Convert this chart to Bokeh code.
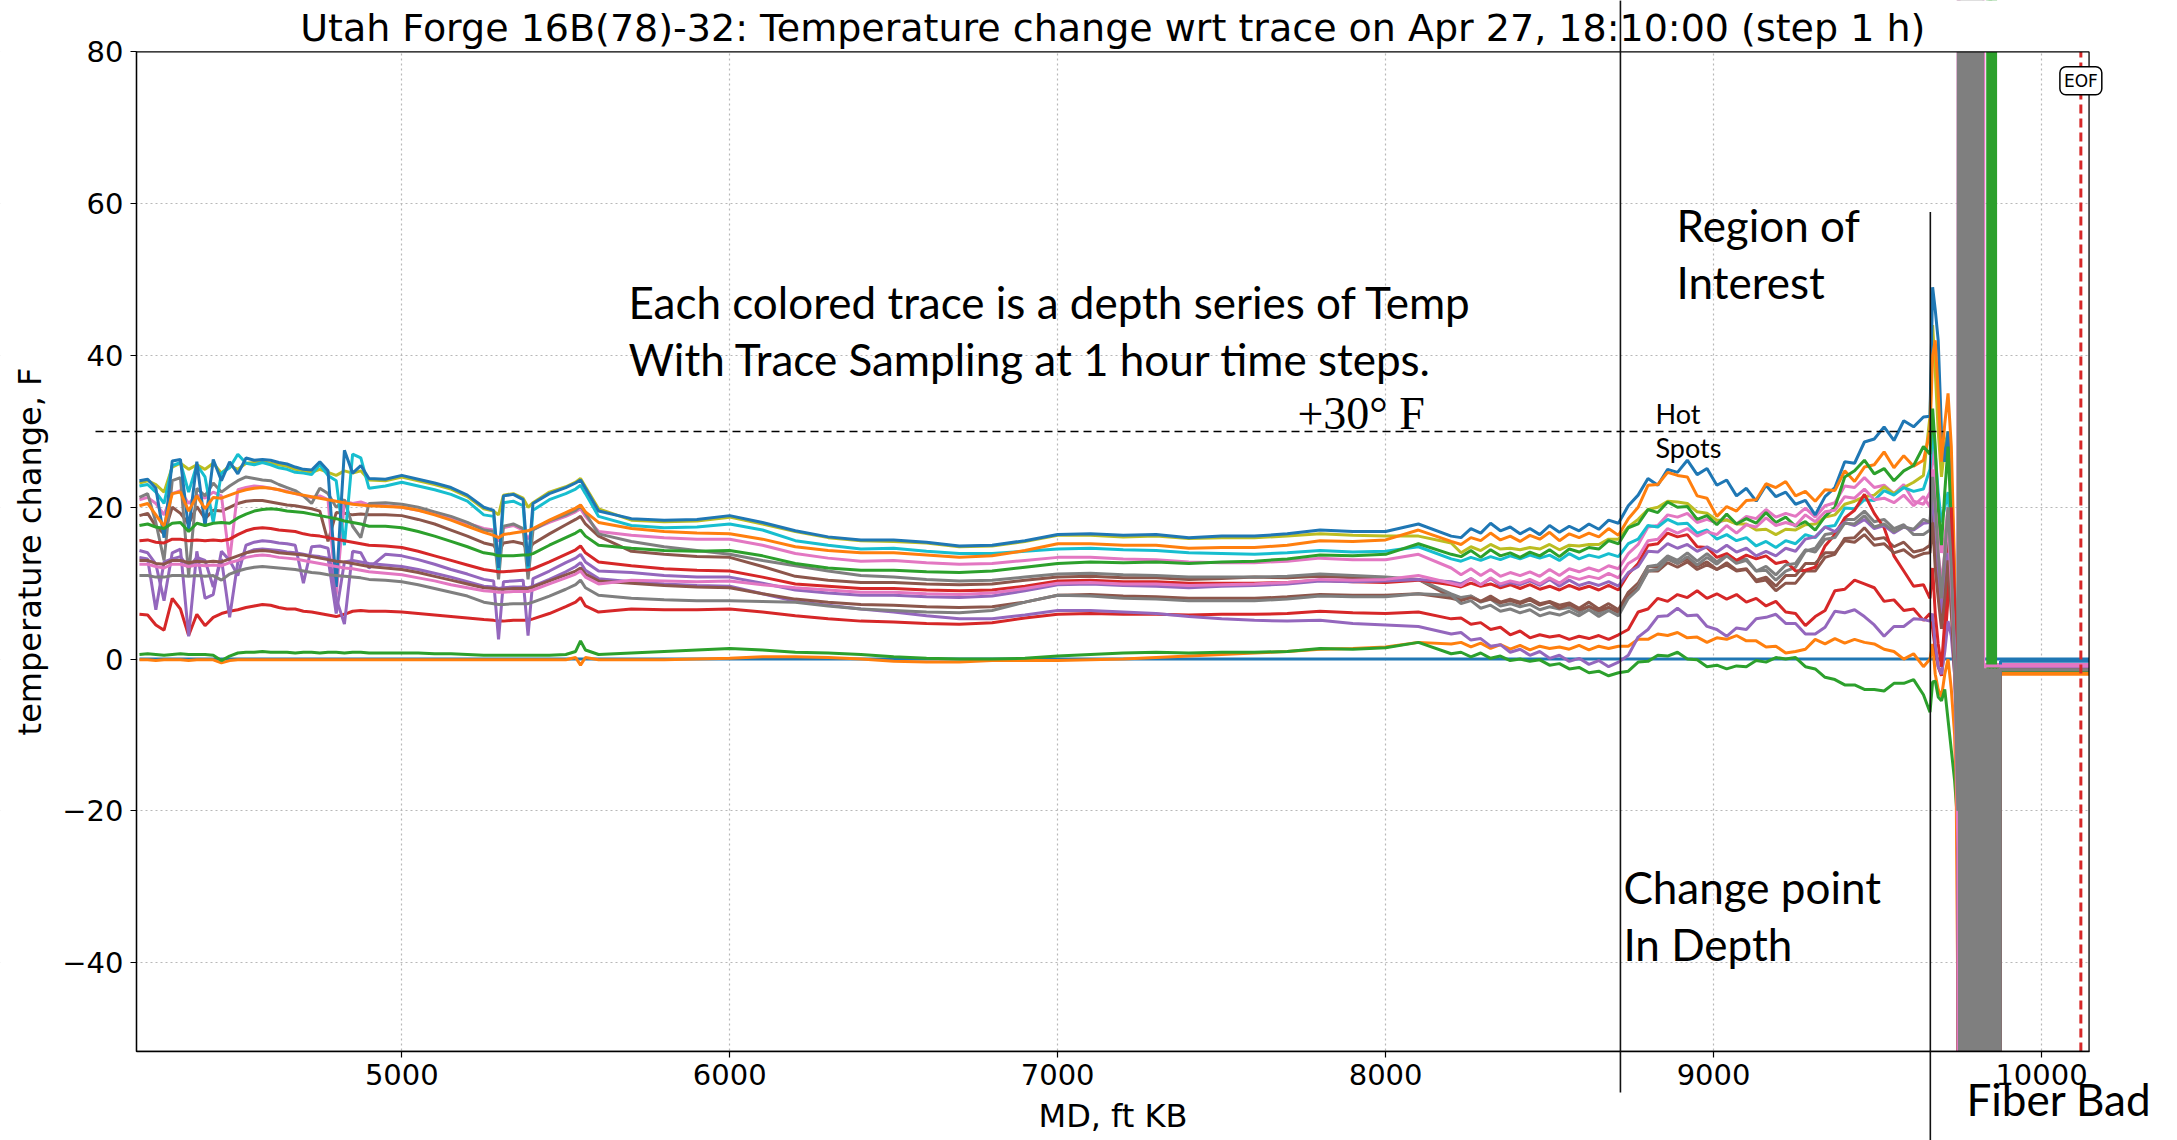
from bokeh.plotting import figure
from bokeh.models import (Range1d, FixedTicker, CustomJSTickFormatter, Label, Arrow, LinearAxis, Grid)
from bokeh.embed import file_html
from bokeh.resources import INLINE

# ---------------- depth grid (MD, ft KB) ----------------
md_a = [4200, 4225, 4250, 4275, 4300, 4325, 4350, 4375, 4400, 4425, 4450, 4475, 4500, 4525, 4550,
        4575, 4600, 4625, 4650, 4675, 4700, 4725, 4750, 4775, 4800, 4825, 4850, 4875, 4900]
md_b = [4950, 5000, 5050, 5100, 5150, 5200, 5250, 5280, 5295, 5310, 5340, 5370, 5385, 5400, 5450,
        5500, 5530, 5545, 5560, 5600]
md_c = [5700, 5800, 5900, 6000, 6100, 6200, 6300, 6400, 6500, 6600, 6700, 6800, 6900, 7000, 7100,
        7200, 7300, 7400, 7500, 7600, 7700, 7800, 7900, 8000, 8100, 8200]
md_d = [8230, 8260, 8290, 8320, 8350, 8380, 8410, 8440, 8470, 8500, 8530, 8560, 8590, 8620, 8650,
        8680, 8710, 8740, 8770, 8800, 8830, 8860, 8890, 8920, 8950, 8980, 9010, 9040, 9070, 9100,
        9130, 9160, 9190, 9220, 9250, 9280, 9310, 9340, 9370, 9400, 9430, 9460, 9490, 9520, 9550,
        9580, 9610, 9640]
md_e = [9660, 9668, 9676, 9685, 9695, 9705, 9715, 9725, 9735, 9745]
depth_ft = md_a + md_b + md_c + md_d + md_e

# ---------------- temperature change traces (F), one per hour ----------------
t00_blue = ([0, 0, 0, 0, 0, 0, 0, 0, 0, 0, 0, 0, 0, 0, 0, 0, 0, 0, 0, 0, 0, 0, 0, 0, 0, 0, 0, 0, 0]
            + [0, 0, 0, 0, 0, 0, 0, 0, 0, 0, 0, 0, 0, 0, 0, 0, 0, 0, 0, 0]
            + [0, 0, 0, 0, 0, 0, 0, 0, 0, 0, 0, 0, 0, 0, 0, 0, 0, 0, 0, 0, 0, 0, 0, 0, 0, 0]
            + [0, 0, 0, 0, 0, 0, 0, 0, 0, 0, 0, 0, 0, 0, 0, 0, 0, 0, 0, 0, 0, 0, 0, 0, 0, 0, 0, 0,
               0, 0, 0, 0, 0, 0, 0, 0, 0, 0, 0, 0, 0, 0, 0, 0, 0, 0, 0, 0]
            + [0, 0, 0, 0, 0, 0, 0, 0, 0, 0])
t01_orange = ([-0.1, -0.1, -0.2, -0.1, -0.1, -0.1, -0.2, -0.1, -0.1, -0.1, -0.5, -0.2, -0.1, -0.1, -0.1,
               -0.1, -0.1, -0.1, -0.1, -0.1, -0.1, -0.1, -0.1, -0.1, -0.1, -0.1, -0.1, -0.1, -0.1]
              + [-0.1, -0.1, -0.1, -0.1, -0.1, -0.1, -0.1, -0.1, -0.1, -0.1, -0.1, -0.1, -0.1, -0.1, -0.1,
                 -0.1, 0.2, -0.8, 0.2, -0.1]
              + [-0.1, -0.1, 0.0, 0.1, 0.3, 0.3, 0.2, 0.0, -0.3, -0.4, -0.4, -0.2, -0.2, -0.2, -0.1,
                 0.0, 0.2, 0.4, 0.6, 0.8, 1.0, 1.3, 1.4, 1.6, 2.2, 2.0]
              + [2.2, 1.6, 2.1, 1.4, 1.9, 1.3, 1.8, 1.2, 1.7, 1.4, 1.6, 1.3, 1.8, 1.2, 1.7, 1.4, 1.7,
                 1.7, 2.6, 2.6, 3.3, 3.1, 3.5, 2.8, 2.9, 2.2, 2.8, 2.6, 3.1, 2.4, 2.4, 1.6, 1.7, 0.8,
                 1.0, 1.3, 2.6, 2.0, 2.7, 2.1, 2.6, 2.2, 2.0, 1.3, 1.0, 0.0, 0.7, -1.0]
              + [0, 2, -2, -4, -5, -2, 0, -4, -10, -25])
t02_green = ([0.6, 0.7, 0.6, 0.5, 0.6, 0.7, 0.6, 0.6, 0.6, 0.5, -0.2, 0.4, 0.8, 0.9, 0.9, 1.0, 0.9,
              0.9, 0.9, 0.8, 0.9, 0.9, 0.8, 0.9, 0.9, 0.8, 0.9, 0.9, 0.8]
             + [0.8, 0.8, 0.8, 0.7, 0.7, 0.6, 0.5, 0.5, 0.5, 0.5, 0.5, 0.5, 0.5, 0.5, 0.5, 0.6, 1.0,
                2.4, 1.2, 0.6]
             + [0.8, 1.0, 1.2, 1.4, 1.2, 0.9, 0.8, 0.6, 0.3, 0.1, 0.0, 0.0, 0.1, 0.4, 0.6, 0.8, 0.9,
                0.8, 0.9, 0.9, 1.0, 1.4, 1.3, 1.5, 2.2, 0.7]
             + [0.9, 0.3, 0.8, 0.1, 0.4, -0.2, 0.0, -0.3, -0.1, -0.8, -0.6, -1.3, -1.1, -1.8, -1.6,
                -2.2, -1.8, -1.6, -0.4, -0.3, 0.5, 0.4, 0.9, 0.0, -0.1, -1.0, -0.8, -1.3, -0.9, -1.0,
                -0.2, -0.4, 0.2, 0.0, 0.2, -1.0, -1.3, -2.4, -2.7, -3.4, -3.4, -4.0, -4.0, -4.2,
                -3.2, -3.2, -2.7, -4.7]
             + [-7, -3, -2.9, -5, -5.5, -4, -8, -12, -16, -22])
t03_red = ([5.9, 5.8, 4.5, 3.8, 8.0, 6.6, 3.1, 5.9, 4.4, 5.5, 6.0, 6.3, 6.5, 6.8, 7.0, 7.2, 7.1,
            6.8, 6.6, 6.6, 6.3, 6.2, 6.0, 5.8, 5.6, 5.9, 6.3, 6.4, 6.3]
           + [6.3, 6.2, 6.0, 5.8, 5.6, 5.4, 5.2, 5.1, 5.0, 5.0, 5.1, 5.1, 5.1, 5.3, 6.0, 6.9, 7.5,
              8.1, 7.0, 6.2]
           + [6.6, 6.5, 6.5, 6.6, 6.2, 5.7, 5.3, 5.0, 4.9, 4.7, 4.6, 4.8, 5.4, 5.9, 6.0, 5.9, 5.9,
              5.8, 5.9, 5.9, 6.0, 6.3, 6.1, 6.0, 6.2, 5.3]
           + [5.4, 4.6, 4.8, 3.9, 4.2, 3.2, 3.7, 2.8, 3.2, 2.9, 3.1, 2.6, 3.0, 2.7, 3.1, 2.6, 3.2,
              3.9, 6.2, 6.6, 8.0, 7.6, 8.5, 8.1, 9.0, 8.0, 8.6, 7.9, 8.5, 7.5, 8.0, 7.0, 7.6, 6.2,
              6.0, 4.4, 5.6, 6.4, 9.0, 9.2, 10.4, 9.9, 9.4, 7.6, 7.8, 6.4, 6.6, 5.1]
           + [6, 4, 1.4, -1, -2.2, 2, 8, 14, 5, -8])
t04_purple = ([13.4, 13.2, 6.5, 12.8, 13.2, 13.5, 12.0, 13.4, 13.0, 9.5, 13.2, 5.5, 12.8, 14.0, 14.4,
               14.5, 14.4, 14.3, 14.1, 14.0, 13.8, 13.6, 13.5, 13.3, 6.0, 12.8, 13.0, 12.8, 12.6]
              + [12.4, 12.2, 11.8, 11.3, 10.8, 10.2, 9.6, 9.5, 9.3, 9.4, 9.5, 9.5, 9.4, 9.6, 10.5,
                 11.5, 12.2, 12.7, 11.7, 10.6]
              + [10.2, 9.9, 9.7, 9.6, 8.6, 7.6, 7.1, 6.6, 6.2, 5.7, 5.3, 5.3, 5.8, 6.4, 6.4, 6.2, 6.0,
                 5.6, 5.3, 5.1, 5.0, 5.1, 4.7, 4.5, 4.3, 3.3]
              + [3.5, 2.5, 2.7, 1.7, 1.9, 0.9, 1.3, 0.5, 1.0, 0.1, 0.5, -0.3, 0.1, -0.7, -0.2, -1.0,
                 -0.4, 0.5, 2.9, 3.9, 5.6, 5.7, 6.7, 5.7, 5.8, 4.3, 3.9, 3.0, 4.1, 3.9, 5.3, 5.5, 5.9,
                 4.7, 4.7, 3.3, 3.3, 4.2, 6.3, 6.1, 6.5, 5.6, 4.5, 3.0, 4.3, 4.3, 5.3, 5.2]
              + [5, 6, 2, -1, -2, 1, 5, 3, -2, -10])
t05_brown = ([18.9, 19.2, 17.5, 16.5, 20.0, 19.2, 17.8, 20.1, 18.5, 19.6, 19.5, 20.0, 20.5, 20.8, 20.9,
              20.9, 20.7, 20.5, 20.3, 20.2, 20.0, 19.8, 19.5, 15.5, 19.3, 19.2, 19.0, 19.1, 19.0]
             + [19.0, 18.9, 18.4, 17.8, 17.0, 16.2, 15.3, 15.0, 14.0, 15.3, 15.5, 15.2, 14.2, 15.2,
                16.5, 17.7, 18.4, 18.8, 17.8, 16.2]
             + [14.2, 13.8, 13.5, 13.4, 12.2, 10.9, 10.4, 10.1, 10.1, 9.9, 9.8, 9.9, 10.4, 10.8, 10.9,
                10.7, 10.7, 10.5, 10.6, 10.8, 10.7, 10.9, 10.7, 10.6, 10.5, 8.2]
             + [7.9, 8.3, 7.6, 8.3, 7.5, 7.9, 7.5, 8.0, 7.3, 7.6, 7.1, 7.4, 6.7, 7.5, 6.6, 7.3, 6.5,
                8.8, 10.0, 12.2, 12.1, 13.2, 12.6, 13.2, 12.2, 12.8, 11.8, 12.7, 11.7, 11.9, 10.2,
                10.4, 9.0, 10.0, 10.0, 11.6, 11.6, 13.4, 13.8, 15.9, 16.0, 17.3, 15.8, 16.0, 14.8,
                15.4, 14.1, 14.4]
             + [15, 20, 15, 10, 5, 10, 15, 8, 0, -15])
t06_pink = ([21.0, 21.3, 20.5, 19.0, 21.8, 22.2, 20.5, 21.6, 21.2, 22.0, 21.5, 13.0, 22.3, 22.6, 22.8,
             22.7, 22.5, 22.3, 22.1, 21.8, 21.5, 21.3, 21.5, 21.0, 8.5, 20.8, 20.5, 20.7, 20.3]
            + [20.2, 20.0, 19.6, 19.2, 18.6, 17.9, 17.2, 17.0, 15.5, 17.3, 17.6, 17.0, 15.8, 17.1,
               18.0, 18.8, 19.4, 19.8, 18.8, 16.8]
            + [16.3, 16.0, 15.8, 15.8, 15.0, 13.9, 13.3, 12.9, 13.0, 12.7, 12.5, 12.6, 13.0, 13.4,
               13.4, 13.2, 13.1, 12.8, 12.7, 12.7, 12.9, 13.3, 13.1, 13.1, 13.8, 12.0]
            + [11.1, 11.9, 11.0, 11.8, 10.9, 11.4, 11.0, 11.5, 10.9, 11.8, 11.0, 11.9, 11.5, 12.0,
               11.6, 12.3, 11.9, 13.9, 15.1, 17.4, 17.6, 19.0, 18.7, 19.2, 18.0, 18.4, 17.9, 18.4,
               17.8, 18.8, 18.5, 19.7, 18.7, 19.2, 18.8, 19.9, 18.7, 20.2, 20.6, 22.8, 22.6, 23.9,
               22.6, 22.9, 21.8, 23.0, 20.8, 20.4]
            + [22, 28, 25, 18, 14, 16, 20, 12, 2, -31])
t07_gray = ([21.3, 21.8, 18.0, 13.0, 23.5, 23.9, 11.0, 22.5, 21.5, 23.2, 22.0, 22.8, 23.5, 24.0, 23.8,
             23.6, 23.5, 23.0, 22.6, 22.2, 21.5, 20.5, 22.5, 21.8, 20.0, 21.0, 17.5, 16.0, 20.5]
            + [20.6, 20.4, 20.0, 19.4, 18.8, 18.0, 17.0, 16.8, 10.5, 17.5, 17.8, 17.2, 10.5, 17.0,
               18.2, 19.0, 19.6, 20.2, 19.2, 16.5]
            + [15.5, 14.8, 14.3, 13.8, 13.0, 12.3, 11.6, 11.0, 10.8, 10.5, 10.3, 10.4, 10.8, 11.2,
               11.3, 11.1, 11.0, 10.8, 10.8, 10.8, 10.9, 11.2, 11.0, 10.8, 10.5, 8.6]
            + [8.1, 8.3, 7.5, 7.9, 7.0, 7.3, 6.9, 7.2, 6.5, 6.9, 6.6, 6.8, 6.1, 7.0, 6.0, 6.8, 6.1,
               8.4, 9.6, 12.2, 12.4, 13.6, 13.0, 14.0, 12.9, 13.9, 12.8, 13.8, 13.0, 13.2, 11.6,
               11.7, 10.4, 11.6, 12.1, 14.2, 14.6, 16.4, 16.6, 18.4, 18.4, 19.5, 18.1, 18.4, 17.2,
               17.7, 16.4, 16.4]
            + [17, 22, 18, 12, 8, 12, 18, 10, 2, -18])
t08_olive = ([23.2, 23.5, 23.0, 22.0, 25.3, 25.8, 25.0, 25.6, 25.0, 25.8, 24.5, 25.5, 25.0, 25.8, 25.9,
              26.0, 25.8, 25.6, 25.4, 25.0, 24.8, 24.6, 25.0, 24.6, 24.2, 24.8, 24.5, 24.8, 23.6]
             + [23.5, 24.0, 23.5, 23.0, 22.4, 21.4, 19.8, 19.5, 19.0, 21.6, 21.8, 21.2, 20.0, 20.6,
                22.0, 22.7, 23.3, 23.8, 22.7, 19.8]
             + [18.3, 18.1, 18.2, 18.7, 17.8, 16.8, 16.0, 15.6, 15.5, 15.3, 14.8, 14.9, 15.5, 16.3,
                16.3, 16.1, 16.2, 15.9, 16.0, 16.0, 16.2, 16.5, 16.3, 16.2, 16.2, 15.3]
             + [14.0, 14.8, 14.3, 15.1, 14.5, 14.6, 14.4, 14.7, 14.5, 15.1, 14.4, 15.0, 14.9, 15.1,
                15.1, 15.8, 15.8, 17.4, 18.4, 19.7, 20.0, 20.8, 20.7, 20.5, 19.4, 19.2, 18.3, 18.3,
                17.8, 17.8, 17.0, 17.1, 16.4, 17.1, 17.0, 17.7, 17.8, 18.7, 19.0, 20.4, 20.8, 21.4,
                21.6, 22.7, 21.8, 22.6, 23.3, 24.2]
             + [32, 44, 38, 30, 24, 28, 30, 20, 8, -15])
t09_cyan = ([22.8, 23.0, 22.0, 20.5, 25.5, 25.9, 22.0, 25.6, 24.0, 18.0, 24.5, 25.2, 27.0, 25.8, 25.6,
             25.9, 25.6, 25.2, 25.0, 24.6, 24.5, 24.3, 25.6, 24.2, 23.5, 15.0, 27.0, 26.5, 22.5]
            + [22.8, 23.3, 22.8, 22.3, 21.7, 20.8, 19.0, 18.8, 11.5, 20.6, 20.8, 20.2, 11.5, 19.6,
               21.0, 21.8, 22.4, 22.9, 21.8, 18.8]
            + [17.6, 17.3, 17.4, 17.8, 17.0, 15.6, 15.0, 14.5, 14.6, 14.2, 13.9, 13.9, 14.2, 14.5,
               14.6, 14.4, 14.3, 14.0, 13.9, 13.8, 14.0, 14.3, 14.1, 14.2, 14.8, 13.2]
            + [12.9, 13.4, 13.0, 13.5, 13.1, 13.6, 13.2, 13.7, 13.3, 13.7, 13.0, 13.9, 13.2, 13.7,
               13.4, 13.9, 13.5, 15.2, 15.8, 17.6, 17.4, 18.4, 17.8, 17.9, 16.6, 17.0, 15.8, 16.4,
               15.6, 16.0, 14.9, 15.5, 14.7, 15.6, 15.2, 16.4, 16.0, 17.4, 17.6, 19.9, 19.8, 21.0,
               20.9, 22.2, 21.6, 22.6, 22.1, 22.4]
            + [25, 30, 27, 22, 18, 20, 22, 15, 5, -12])
t10_blue = ([23.5, 23.7, 22.5, 16.0, 26.1, 26.3, 17.0, 26.0, 17.5, 26.3, 23.5, 26.0, 24.4, 26.5, 26.2,
             26.3, 26.2, 25.9, 25.7, 25.3, 25.0, 24.9, 26.0, 24.8, 9.5, 27.5, 24.5, 25.5, 23.8]
            + [23.7, 24.2, 23.7, 23.2, 22.6, 21.6, 20.0, 19.6, 12.0, 21.5, 21.7, 21.0, 12.2, 20.5,
               21.8, 22.6, 23.2, 23.6, 22.5, 19.5]
            + [18.5, 18.3, 18.4, 18.9, 18.0, 16.9, 16.1, 15.7, 15.7, 15.4, 14.9, 15.0, 15.6, 16.4,
               16.5, 16.3, 16.4, 16.0, 16.2, 16.2, 16.5, 17.0, 16.8, 16.8, 17.8, 16.2]
            + [16.0, 17.2, 16.6, 17.9, 16.9, 17.4, 16.5, 17.2, 16.4, 17.6, 16.7, 17.5, 16.9, 17.8,
               17.1, 18.3, 17.9, 20.2, 21.6, 23.8, 22.9, 25.0, 24.6, 26.2, 24.3, 25.1, 22.9, 23.6,
               21.5, 22.5, 20.8, 22.9, 21.4, 22.0, 20.4, 20.9, 19.0, 21.4, 22.6, 26.0, 25.8, 28.6,
               29.0, 30.6, 28.8, 31.4, 30.6, 31.9]
            + [32, 49, 46, 42, 30, 26, 30, 24, 10, -5])
t11_orange = ([20.2, 20.5, 19.0, 17.5, 21.8, 22.0, 19.5, 21.5, 19.8, 21.3, 21.2, 21.6, 22.0, 22.3, 22.5,
               22.6, 22.5, 22.3, 22.0, 21.8, 21.6, 21.4, 21.2, 21.0, 20.8, 20.6, 20.4, 20.3, 20.2]
              + [20.1, 20.0, 19.6, 19.0, 18.3, 17.5, 16.7, 16.3, 16.0, 16.4, 16.6, 16.8, 16.9, 17.2,
                 18.3, 19.3, 19.9, 20.3, 19.4, 18.0]
              + [17.2, 16.8, 16.6, 16.5, 15.8, 14.8, 14.3, 14.0, 14.0, 13.7, 13.4, 13.6, 14.3, 15.2,
                 15.2, 15.0, 15.0, 14.6, 14.7, 14.7, 15.0, 15.6, 15.5, 15.7, 17.0, 15.5]
              + [15.1, 16.0, 15.6, 16.6, 15.7, 16.2, 15.5, 16.3, 15.8, 16.7, 15.6, 16.5, 16.0, 16.6,
                 16.1, 17.2, 16.3, 18.5, 20.0, 22.9, 23.0, 24.6, 24.2, 24.0, 21.5, 21.2, 18.8, 20.1,
                 19.5, 20.9, 21.0, 23.1, 22.6, 23.4, 21.5, 22.1, 20.8, 22.3, 22.2, 24.8, 23.4, 25.3,
                 25.6, 27.3, 25.2, 26.8, 25.4, 26.2]
              + [30, 40, 42, 35, 26, 31, 35, 28, 12, -47])
t12_green = ([17.6, 17.8, 17.4, 17.2, 17.9, 18.0, 16.8, 17.9, 17.6, 17.9, 18.0, 17.9, 18.6, 19.1, 19.5,
              19.7, 19.8, 19.7, 19.5, 19.4, 19.3, 19.1, 18.9, 18.7, 18.5, 18.2, 18.0, 17.8, 17.5]
             + [17.5, 17.3, 16.8, 16.2, 15.5, 14.8, 14.0, 13.8, 13.6, 13.6, 13.6, 13.7, 13.7, 13.9,
                15.0, 16.0, 16.6, 17.0, 16.2, 15.0]
             + [14.6, 14.3, 14.2, 14.3, 13.6, 12.6, 12.0, 11.7, 11.7, 11.5, 11.4, 11.6, 12.1, 12.6,
                12.8, 12.7, 12.8, 12.6, 12.8, 12.9, 13.2, 13.7, 13.6, 13.8, 15.2, 13.8]
             + [13.5, 14.3, 13.4, 14.4, 13.6, 14.0, 13.4, 14.1, 13.6, 14.4, 13.5, 14.5, 14.1, 14.7,
                14.5, 15.6, 15.2, 17.3, 17.8, 19.7, 19.3, 20.7, 20.0, 20.1, 18.4, 18.9, 17.7, 19.1,
                17.8, 18.5, 17.9, 19.3, 18.0, 18.7, 17.5, 18.1, 17.0, 18.8, 20.0, 24.0, 24.8, 26.2,
                24.4, 25.1, 23.5, 24.8, 25.5, 28.0]
             + [27, 33, 28, 20, 15, 22, 28, 18, 5, -20])
t13_red = ([15.6, 15.7, 15.4, 15.3, 15.8, 15.8, 15.6, 15.7, 15.6, 15.7, 15.6, 15.8, 16.4, 16.9, 17.2,
            17.3, 17.2, 17.0, 16.9, 16.8, 16.5, 16.3, 16.2, 16.0, 15.8, 15.6, 15.4, 15.2, 15.0]
           + [14.9, 14.7, 14.2, 13.6, 13.0, 12.4, 11.8, 11.6, 11.5, 11.5, 11.6, 11.7, 11.7, 11.9,
              12.8, 13.8, 14.4, 14.9, 14.0, 12.8]
           + [12.3, 11.9, 11.7, 11.6, 10.8, 9.9, 9.6, 9.3, 9.3, 9.1, 9.0, 9.1, 9.6, 10.3, 10.4,
              10.2, 10.2, 10.0, 10.0, 10.0, 10.1, 10.4, 10.2, 10.1, 10.4, 9.8]
           + [9.5, 10.0, 9.6, 9.9, 9.4, 9.8, 9.3, 9.8, 9.2, 9.6, 9.1, 9.7, 9.2, 9.6, 9.1, 9.7, 9.1,
              11.2, 12.6, 15.0, 15.2, 16.6, 16.1, 16.4, 14.8, 14.7, 13.4, 13.9, 13.0, 13.7, 13.2,
              13.6, 12.6, 12.9, 11.6, 11.7, 12.1, 14.9, 16.4, 18.6, 19.6, 21.7, 19.2, 17.3, 13.6,
              11.6, 9.6, 9.8]
           + [8, 12, 6, 2, -1, 5, 12, 20, 8, -10])
t14_purple = ([14.3, 14.0, 12.5, 7.7, 14.0, 14.5, 3.0, 14.2, 8.0, 8.5, 14.2, 13.0, 11.0, 15.0, 15.4,
               15.6, 15.5, 15.3, 15.2, 15.0, 10.0, 14.8, 14.9, 14.6, 8.0, 4.6, 14.2, 14.0, 12.0]
              + [13.8, 13.6, 13.1, 12.5, 11.8, 11.2, 10.5, 10.3, 2.6, 10.2, 10.3, 10.4, 3.1, 10.6,
                 11.6, 12.7, 13.3, 13.8, 12.8, 11.6]
              + [11.4, 11.0, 10.8, 10.8, 10.0, 9.1, 8.7, 8.4, 8.4, 8.2, 8.1, 8.3, 9.0, 9.8, 9.9, 9.7,
                 9.6, 9.4, 9.6, 9.7, 9.9, 10.3, 10.2, 10.3, 10.5, 10.2]
              + [9.9, 10.6, 9.8, 10.6, 9.7, 10.1, 9.8, 10.3, 9.7, 10.5, 9.6, 10.4, 9.7, 10.1, 9.7,
                 10.2, 9.6, 11.4, 12.2, 14.2, 14.1, 15.2, 14.6, 15.1, 14.2, 14.8, 14.1, 15.0, 14.1,
                 14.6, 13.6, 14.2, 13.6, 14.6, 14.2, 15.8, 16.1, 17.4, 16.8, 18.0, 17.6, 18.4, 17.2,
                 17.6, 16.6, 17.4, 17.0, 17.9]
              + [18, 22, 16, 10, 6, 10, 14, 10, 2, -14])
t15_brown = ([13.0, 13.0, 12.6, 12.5, 13.0, 13.0, 12.7, 12.9, 12.8, 12.9, 12.8, 13.2, 13.6, 14.0, 14.2,
              14.3, 14.2, 14.0, 13.9, 13.8, 13.7, 13.5, 13.3, 13.1, 12.9, 12.8, 12.6, 12.4, 12.2]
             + [12.0, 11.8, 11.4, 10.9, 10.4, 9.9, 9.4, 9.3, 9.2, 9.2, 9.3, 9.3, 9.3, 9.5, 10.3, 11.1,
                11.6, 12.0, 11.2, 10.3]
             + [10.0, 9.7, 9.5, 9.4, 8.6, 7.9, 7.5, 7.2, 7.1, 6.9, 6.8, 6.9, 7.5, 8.4, 8.5, 8.3, 8.2,
                8.0, 8.0, 8.0, 8.2, 8.5, 8.4, 8.4, 8.6, 8.0]
             + [7.7, 8.1, 7.6, 7.9, 7.4, 7.7, 7.3, 7.8, 7.1, 7.5, 6.7, 7.2, 6.5, 6.9, 6.4, 6.8, 6.2,
                8.4, 9.4, 11.6, 11.6, 12.7, 12.1, 12.8, 11.8, 12.4, 11.8, 12.4, 11.6, 11.8, 10.4,
                10.8, 9.6, 11.0, 11.0, 12.6, 12.6, 14.0, 14.0, 15.6, 15.4, 16.4, 15.0, 15.2, 14.0,
                14.4, 13.4, 13.9]
             + [14, 18, 12, 8, 4, 8, 13, 6, -2, -12])
t16_pink = ([12.5, 12.5, 12.2, 12.0, 12.5, 12.5, 12.2, 12.4, 12.3, 12.4, 12.3, 12.7, 13.0, 13.4, 13.6,
             13.7, 13.6, 13.4, 13.3, 13.2, 13.0, 12.8, 12.6, 12.4, 12.2, 12.0, 11.9, 11.7, 11.5]
            + [11.3, 11.1, 10.7, 10.3, 9.8, 9.4, 9.0, 8.9, 8.8, 8.8, 8.9, 8.9, 8.9, 9.1, 9.9, 10.7,
               11.2, 11.6, 10.8, 9.9]
            + [10.4, 10.3, 10.2, 10.3, 9.8, 9.4, 9.1, 8.8, 8.8, 8.6, 8.5, 8.7, 9.3, 10.0, 10.1, 9.9,
               9.9, 9.7, 9.8, 9.9, 10.1, 10.5, 10.4, 10.5, 11.0, 10.0]
            + [9.7, 10.6, 9.8, 10.7, 9.9, 10.3, 10.0, 10.5, 9.9, 10.7, 10.0, 10.9, 10.5, 10.9, 10.6,
               11.3, 10.7, 12.6, 13.4, 15.6, 15.8, 17.2, 16.6, 17.2, 16.2, 16.8, 16.4, 17.6, 16.6,
               17.7, 17.4, 18.6, 17.6, 18.0, 17.6, 19.0, 18.1, 19.4, 19.6, 21.4, 21.2, 22.4, 21.0,
               21.2, 20.6, 21.6, 20.2, 21.4]
            + [20, 25, 20, 14, 10, 14, 18, 10, 0, -25])
t17_gray = ([11.0, 11.0, 10.8, 10.8, 11.0, 11.0, 10.9, 11.0, 10.9, 11.0, 10.4, 11.2, 11.6, 11.9, 12.1,
             12.2, 12.1, 12.0, 11.9, 11.8, 11.6, 11.4, 11.3, 11.1, 11.0, 10.9, 10.8, 10.7, 10.5]
            + [10.4, 10.2, 9.8, 9.3, 8.8, 8.3, 7.5, 7.3, 7.2, 7.2, 7.3, 7.3, 7.3, 7.5, 8.3, 9.2, 9.8,
               10.4, 9.4, 8.4]
            + [8.0, 7.8, 7.7, 7.7, 7.6, 7.5, 7.0, 6.6, 6.4, 6.2, 6.1, 6.4, 7.5, 8.4, 8.3, 8.0, 7.9,
               7.7, 7.7, 7.7, 7.9, 8.3, 8.2, 8.2, 8.6, 8.4]
            + [7.3, 7.7, 6.7, 7.1, 6.3, 6.6, 6.1, 6.5, 5.7, 6.1, 5.8, 6.3, 5.7, 6.5, 5.6, 6.4, 5.7,
               8.0, 9.2, 11.6, 11.8, 13.2, 12.6, 13.5, 12.4, 13.4, 12.5, 13.6, 12.6, 13.0, 11.6,
               12.2, 11.1, 12.4, 12.6, 14.4, 14.1, 15.8, 16.0, 17.9, 17.8, 18.9, 17.4, 17.8, 16.8,
               17.4, 17.1, 18.4]
            + [18, 24, 20, 14, 8, 14, 20, 12, 0, -20])

# ---------------- bad-fiber tails beyond ~9745 ft (off-scale values +/-200) ----------------
tail_md_00 = [10150]
tail_dt_00 = [0]
tail_md_01 = [9751, 9872, 9875, 10150]
tail_dt_01 = [-200, -200, -2.0, -2.0]
tail_md_02 = [9751, 9843, 9843, 9845, 9845, 10150]
tail_dt_02 = [-200, -200, 200, 200, -1.5, -1.5]
tail_md_03 = [9751, 9872, 9875, 10150]
tail_dt_03 = [-200, -200, -1.3, -1.3]
tail_md_04 = [9751, 9872, 9875, 10150]
tail_dt_04 = [-200, -200, -1.2, -1.2]
tail_md_05 = [9751, 9872, 9875, 10150]
tail_dt_05 = [-200, -200, -1.3, -1.3]
tail_md_06 = [9746, 9749, 9826, 9826, 10150]
tail_dt_06 = [200, -200, -200, -0.7, -0.7]
tail_md_07 = [9751, 9872, 9875, 10150]
tail_dt_07 = [-200, -200, -1.3, -1.3]
tail_md_08 = [9751, 9872, 9875, 10150]
tail_dt_08 = [-200, -200, -1.1, -1.1]
tail_md_09 = [9751, 9872, 9875, 10150]
tail_dt_09 = [-200, -200, -1.0, -1.0]
tail_md_10 = [9751, 9872, 9875, 10150]
tail_dt_10 = [-200, -200, -0.3, -0.3]
tail_md_11 = [9751, 9872, 9875, 10150]
tail_dt_11 = [-200, -200, -1.9, -1.9]
tail_md_12 = [9751, 9836, 9836, 9839, 9839, 9848, 9848, 9850, 9850, 9858, 9858, 9860, 9860, 10150]
tail_dt_12 = [-200, -200, 200, 200, -1.2, -1.2, 200, 200, -1.2, -1.2, 200, 200, -1.2, -1.2]
tail_md_13 = [9751, 9872, 9875, 10150]
tail_dt_13 = [-200, -200, -1.3, -1.3]
tail_md_14 = [9751, 9872, 9875, 10150]
tail_dt_14 = [-200, -200, -1.2, -1.2]
tail_md_15 = [9751, 9872, 9875, 10150]
tail_dt_15 = [-200, -200, -1.4, -1.4]
tail_md_16 = [9748, 9750, 9824, 9824, 10150]
tail_dt_16 = [-200, 200, 200, -0.9, -0.9]
tail_md_17 = [9748, 9750, 9750, 9755, 9755, 9760, 9760, 9765, 9765, 9770, 9770, 9775, 9775, 9780, 9780,
              9785, 9785, 9790, 9790, 9795, 9795, 9800, 9800, 9805, 9805, 9810, 9810, 9815, 9815,
              9820, 9820, 9825, 9825, 9830, 9830, 9835, 9835, 9840, 9840, 9845, 9845, 9850, 9850,
              9855, 9855, 9860, 9860, 9865, 9865, 9870, 9870, 9874, 9874, 10150]
tail_dt_17 = [200, 200, -200, -200, 200, 200, -200, -200, 200, 200, -200, -200, 200, 200, -200,
              -200, 200, 200, -200, -200, 200, 200, -200, -200, 200, 200, -200, -200, 200,
              200, -200, -200, -1.4, -1.4, -200, -200, -1.4, -1.4, -200, -200, -1.4, -1.4, -200,
              -200, -1.4, -1.4, -200, -200, -1.4, -1.4, -200, -200, -1.4, -1.4]

trace_colors = ["#1f77b4", "#ff7f0e", "#2ca02c", "#d62728", "#9467bd", "#8c564b", "#e377c2",
                "#7f7f7f", "#bcbd22", "#17becf", "#1f77b4", "#ff7f0e", "#2ca02c", "#d62728",
                "#9467bd", "#8c564b", "#e377c2", "#7f7f7f"]

traces = [t00_blue, t01_orange, t02_green, t03_red, t04_purple, t05_brown, t06_pink, t07_gray,
          t08_olive, t09_cyan, t10_blue, t11_orange, t12_green, t13_red, t14_purple, t15_brown,
          t16_pink, t17_gray]
tails_md = [tail_md_00, tail_md_01, tail_md_02, tail_md_03, tail_md_04, tail_md_05, tail_md_06,
            tail_md_07, tail_md_08, tail_md_09, tail_md_10, tail_md_11, tail_md_12, tail_md_13,
            tail_md_14, tail_md_15, tail_md_16, tail_md_17]
tails_dt = [tail_dt_00, tail_dt_01, tail_dt_02, tail_dt_03, tail_dt_04, tail_dt_05, tail_dt_06,
            tail_dt_07, tail_dt_08, tail_dt_09, tail_dt_10, tail_dt_11, tail_dt_12, tail_dt_13,
            tail_dt_14, tail_dt_15, tail_dt_16, tail_dt_17]

threshold_f = 30
threshold_md = [4066, 9701]
eof_md = 10120
change_point_md = 8716
bad_start_md = 9661

x_ticks = [5000, 6000, 7000, 8000, 9000, 10000]
y_ticks = [-40, -20, 0, 20, 40, 60, 80]

# plotted box (axes extent) inside a frame that fills the whole canvas
X_LO, X_HI = 4191, 10145
Y_LO, Y_HI = -51.7, 80

p = figure(width=2177, height=1140, output_backend="svg", toolbar_location=None,
           x_range=Range1d(3776.3, 10414.7), y_range=Range1d(-63.43, 86.77),
           x_axis_location=None, y_axis_location=None,
           min_border=0, min_border_left=0, min_border_right=0, min_border_top=0,
           min_border_bottom=0)
p.background_fill_color = "white"
p.border_fill_color = "white"
p.outline_line_color = None
p.center = [r for r in p.center if not isinstance(r, Grid)]

gx = Grid(dimension=0, ticker=FixedTicker(ticks=x_ticks), grid_line_color="#b8b8b8",
          grid_line_dash="2 3", grid_line_width=1.2)
gy = Grid(dimension=1, ticker=FixedTicker(ticks=y_ticks), grid_line_color="#b8b8b8",
          grid_line_dash="2 3", grid_line_width=1.2)
p.add_layout(gx)
p.add_layout(gy)

xax = LinearAxis(ticker=FixedTicker(ticks=x_ticks), fixed_location=Y_LO, bounds=(X_LO, X_HI),
                 axis_label="MD, ft KB")
yax = LinearAxis(ticker=FixedTicker(ticks=y_ticks), fixed_location=X_LO, bounds=(Y_LO, Y_HI),
                 axis_label="temperature change, F",
                 formatter=CustomJSTickFormatter(
                     code="return (tick < 0) ? '\u2212' + Math.abs(tick) : String(tick);"))
for ax in (xax, yax):
    ax.axis_line_color = "black"
    ax.axis_line_width = 1.3
    ax.major_tick_line_color = "black"
    ax.major_tick_line_width = 1.2
    ax.major_tick_out = 6
    ax.major_tick_in = 0
    ax.minor_tick_out = 0
    ax.minor_tick_in = 0
    ax.major_label_text_font = "DejaVu Sans"
    ax.major_label_text_font_size = "29px"
    ax.major_label_text_color = "black"
    ax.major_label_standoff = 7
    ax.axis_label_text_font = "DejaVu Sans"
    ax.axis_label_text_font_size = "32px"
    ax.axis_label_text_font_style = "normal"
    ax.axis_label_text_color = "black"
    ax.axis_label_standoff = 8
yax.axis_label_standoff = 10
p.add_layout(xax, "below")
p.add_layout(yax, "left")

for vals, tmd, tdt, col in zip(traces, tails_md, tails_dt, trace_colors):
    n = min(len(depth_ft), len(vals))
    p.line(x=depth_ft[:n] + tmd, y=vals[:n] + tdt, line_color=col, line_width=3)

p.segment(x0=[eof_md], y0=[Y_LO], x1=[eof_md], y1=[Y_HI], line_color="#d62728",
          line_dash="9 5", line_width=3)

# white margins outside the axes box (hide off-scale parts of the traces and grid)
p.quad(left=[0, X_HI, 0, 0], right=[X_LO, 20000, 20000, 20000],
       bottom=[-400, -400, Y_HI, -400], top=[400, 400, 400, Y_LO],
       fill_color="white", line_color=None)
p.quad(left=[X_LO], right=[X_HI], bottom=[Y_LO], top=[Y_HI], fill_color=None,
       line_color="black", line_width=1.3)

# title
p.add_layout(Label(x=(X_LO + X_HI) / 2, y=83.2,
                   text="Utah Forge 16B(78)-32: Temperature change wrt trace on Apr 27, 18:10:00 (step 1 h)",
                   text_font="DejaVu Sans", text_font_size="38px", text_color="black",
                   text_align="center", text_baseline="middle"))

# annotations drawn over the chart
p.add_layout(Arrow(end=None, x_start=threshold_md[0], y_start=threshold_f,
                   x_end=threshold_md[1], y_end=threshold_f,
                   line_color="black", line_width=1.5, line_dash="8 5"))
p.add_layout(Arrow(end=None, x_start=change_point_md, y_start=86.8,
                   x_end=change_point_md, y_end=-57.1, line_color="#111111", line_width=1.6))
p.add_layout(Arrow(end=None, x_start=bad_start_md, y_start=58.9,
                   x_end=bad_start_md, y_end=-64.0, line_color="#111111", line_width=1.6))

def note(x, y, text, size, font="Lato"):
    p.add_layout(Label(x=x, y=y, text=text, text_font=font, text_font_size=size,
                       text_color="black", text_baseline="alphabetic", text_align="left"))

note(5691, 47.0, "Each colored trace is a depth series of Temp", "44px")
note(5691, 39.5, "With Trace Sampling at 1 hour time steps.", "44px")
note(7731, 32.3, "+30\u00b0 F", "46px", font="Liberation Serif")
note(8887, 57.2, "Region of", "44px")
note(8887, 49.7, "Interest", "44px")
note(8823, 32.3, "Hot", "27px")
note(8823, 27.9, "Spots", "27px")
note(8725, -30.0, "Change point", "44px")
note(8725, -37.5, "In Depth", "44px")
note(9771, -57.9, "Fiber Bad", "44px")

p.add_layout(Label(x=eof_md, y=76.2, text="EOF", text_font="DejaVu Sans", text_font_size="17px",
                   text_color="black", text_align="center", text_baseline="middle",
                   background_fill_color="white", border_line_color="black",
                   border_line_width=1.5, padding=4, border_radius=6))

open("out.html", "w").write(file_html(p, INLINE))
